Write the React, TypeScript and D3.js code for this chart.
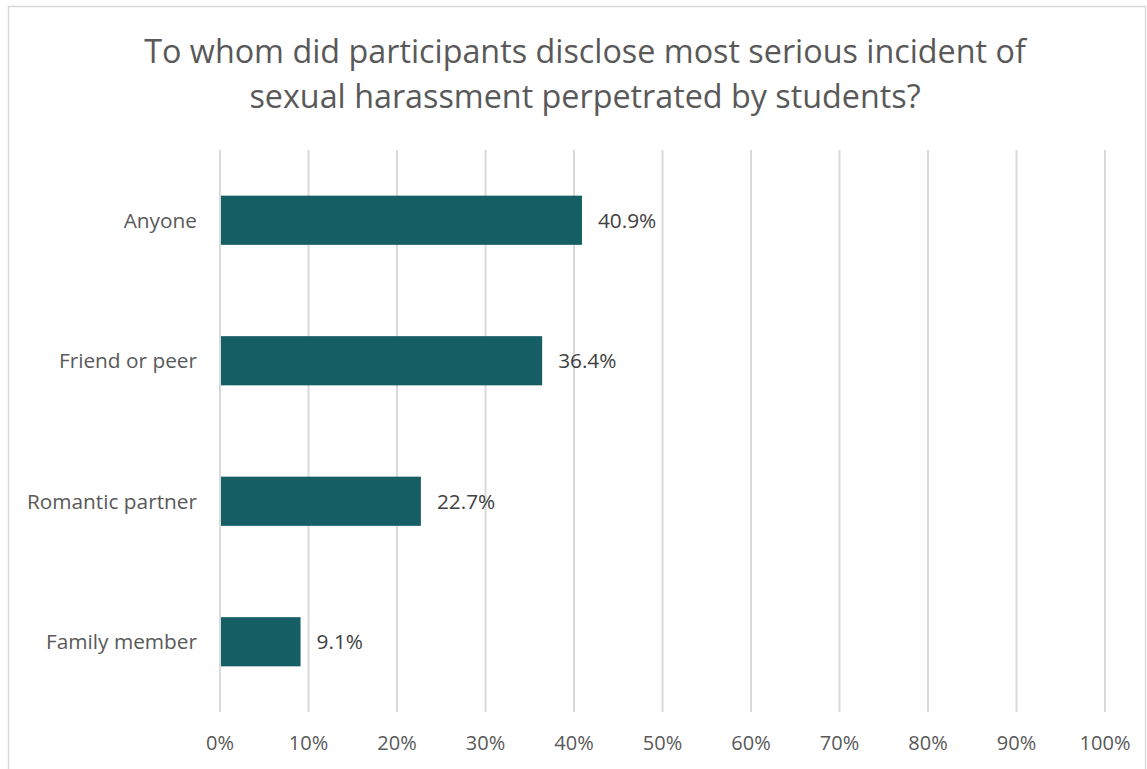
import React from "react";
import * as d3 from "d3";

const categories = ["Anyone", "Friend or peer", "Romantic partner", "Family member"];
const values = [40.9, 36.4, 22.7, 9.1];
const ticks = [0, 10, 20, 30, 40, 50, 60, 70, 80, 90, 100];
const titleLines = [
  "To whom did participants disclose most serious incident of",
  "sexual harassment perpetrated by students?",
];

const W = 1147;
const H = 769;
const FONT = "'Open Sans', sans-serif";
const TEXT = "#595959";

export default function App() {
  const x = d3.scaleLinear().domain([0, 100]).range([220, 1105]);
  const y = d3.scaleBand<string>().domain(categories).range([150, 712]).paddingInner(0.65).paddingOuter(0.325);
  return (
    <svg width={W} height={H} style={{ position: "absolute", left: 0, top: 0 }}>
      <rect x={8.5} y={6.5} width={1137} height={780} fill="#fff" stroke="#d9d9d9" strokeWidth={1.5} />
      {titleLines.map((t, i) => (
        <text key={i} x={585} y={63 + i * 44.5} textAnchor="middle" fontFamily={FONT} fontSize={32.3} fill={TEXT}>
          {t}
        </text>
      ))}
      {ticks.map((t) => (
        <g key={t}>
          <line x1={x(t)} x2={x(t)} y1={150} y2={712} stroke="#d9d9d9" strokeWidth={2} />
          <text x={x(t)} y={750} textAnchor="middle" fontFamily={FONT} fontSize={20} fill={TEXT}>
            {t}%
          </text>
        </g>
      ))}
      {categories.map((c, i) => {
        const yy = y(c)!;
        const bw = y.bandwidth();
        return (
          <g key={c}>
            <rect x={x(0) + 1} y={yy} width={x(values[i]) - x(0) - 1} height={bw} fill="#145E64" />
            <text x={197} y={yy + bw / 2 + 7.5} textAnchor="end" fontFamily={FONT} fontSize={20.8} fill={TEXT}>
              {c}
            </text>
            <text x={x(values[i]) + 16} y={yy + bw / 2 + 7.5} textAnchor="start" fontFamily={FONT} fontSize={20.8} fill="#404040">
              {values[i].toFixed(1)}%
            </text>
          </g>
        );
      })}
    </svg>
  );
}
